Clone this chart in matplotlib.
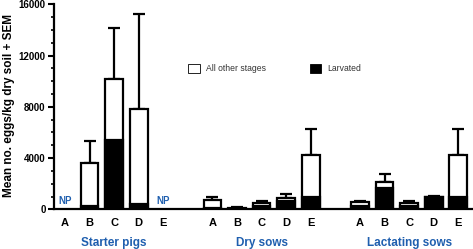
import numpy as np
import matplotlib
matplotlib.use("Agg")
from matplotlib import pyplot as plt
from matplotlib.patches import Rectangle

plt.rcParams["font.family"] = ["Liberation Sans", "DejaVu Sans"]

# ---------------------------
# Data
# ---------------------------

groups = ["Starter pigs", "Dry sows", "Lactating sows"]
stages = ["A", "B", "C", "D", "E"]

# total (all other stages + larvated), larvated part, top of SEM bar
starter_total = [np.nan, 3650, 10150, 7800, np.nan]
starter_larv = [np.nan, 280, 5410, 410, np.nan]
starter_err = [np.nan, 5330, 14150, 15220, np.nan]

dry_total = [720, 110, 520, 880, 4270]
dry_larv = [100, 60, 260, 650, 990]
dry_err = [930, 160, 640, 1200, 6280]

lact_total = [550, 2100, 470, 960, 4270]
lact_larv = [270, 1690, 260, 960, 990]
lact_err = [640, 2760, 650, 1080, 6280]

blue = "#1f5faf"

# ---------------------------
# Plot
# ---------------------------

fig = plt.figure(figsize=(4.73, 2.49), dpi=100)
ax = fig.add_axes([0.114, 0.159, 0.886, 0.824])

totals = [starter_total, dry_total, lact_total]
larvs = [starter_larv, dry_larv, lact_larv]
errs = [starter_err, dry_err, lact_err]

width = 0.72
xs_all = []

for g in range(3):
    xs = np.arange(5) + g * 6
    tot = np.array(totals[g], dtype=float)
    larv = np.array(larvs[g], dtype=float)
    err = np.array(errs[g], dtype=float)

    ok = ~np.isnan(tot)

    ax.bar(xs[ok], tot[ok], width=width, color="white",
           edgecolor="black", linewidth=1.6, zorder=2)
    ax.bar(xs[ok], larv[ok], width=width, color="black",
           edgecolor="black", linewidth=1.6, zorder=3)

    ax.errorbar(xs[ok], tot[ok],
                yerr=[np.zeros(ok.sum()), err[ok] - tot[ok]],
                fmt="none", ecolor="black", elinewidth=1.6,
                capsize=4, capthick=1.6, zorder=1)

    for i, x in enumerate(xs):
        if not ok[i]:
            ax.text(x, 250, "NP", color=blue, fontsize=7,
                    fontweight="bold", ha="center", va="bottom")

    xs_all.extend(xs)

    ax.text(xs[2], -0.165, groups[g], color=blue, fontsize=8.5,
            fontweight="bold", ha="center", va="center",
            transform=ax.get_xaxis_transform())

ax.set_xticks(xs_all)
ax.set_xticklabels(stages * 3, fontsize=8, fontweight="bold")
ax.tick_params(axis="x", length=0, pad=6)

ax.set_xlim(-0.45, 16.6)
ax.set_ylim(0, 16000)
ax.set_yticks([0, 4000, 8000, 12000, 16000])
ax.set_yticks(np.arange(0, 16001, 1000), minor=True)
ax.tick_params(axis="y", labelsize=7, width=1.5, length=4.5, pad=1.5)
ax.tick_params(axis="y", which="minor", width=1.2, length=2.5)
for lab in ax.get_yticklabels():
    lab.set_fontweight("bold")

ax.set_ylabel("Mean no. eggs/kg dry soil + SEM", fontsize=8.5,
              fontweight="bold")
ax.yaxis.set_label_coords(-0.092, 0.505)

for side in ["top", "right"]:
    ax.spines[side].set_visible(False)
for side in ["left", "bottom"]:
    ax.spines[side].set_linewidth(1.6)

# legend drawn by hand
leg_y = 0.675
ax.add_patch(Rectangle((0.321, leg_y - 0.012), 0.027, 0.045,
                       transform=ax.transAxes, facecolor="white",
                       edgecolor="black", linewidth=0.6))
ax.text(0.363, leg_y + 0.01, "All other stages", fontsize=6.2,
        color="#333333", va="center", transform=ax.transAxes)
ax.add_patch(Rectangle((0.61, leg_y - 0.012), 0.027, 0.045,
                       transform=ax.transAxes, facecolor="black",
                       edgecolor="black", linewidth=0.6))
ax.text(0.652, leg_y + 0.01, "Larvated", fontsize=6.2,
        color="#333333", va="center", transform=ax.transAxes)

plt.savefig("out.png", dpi=100)
